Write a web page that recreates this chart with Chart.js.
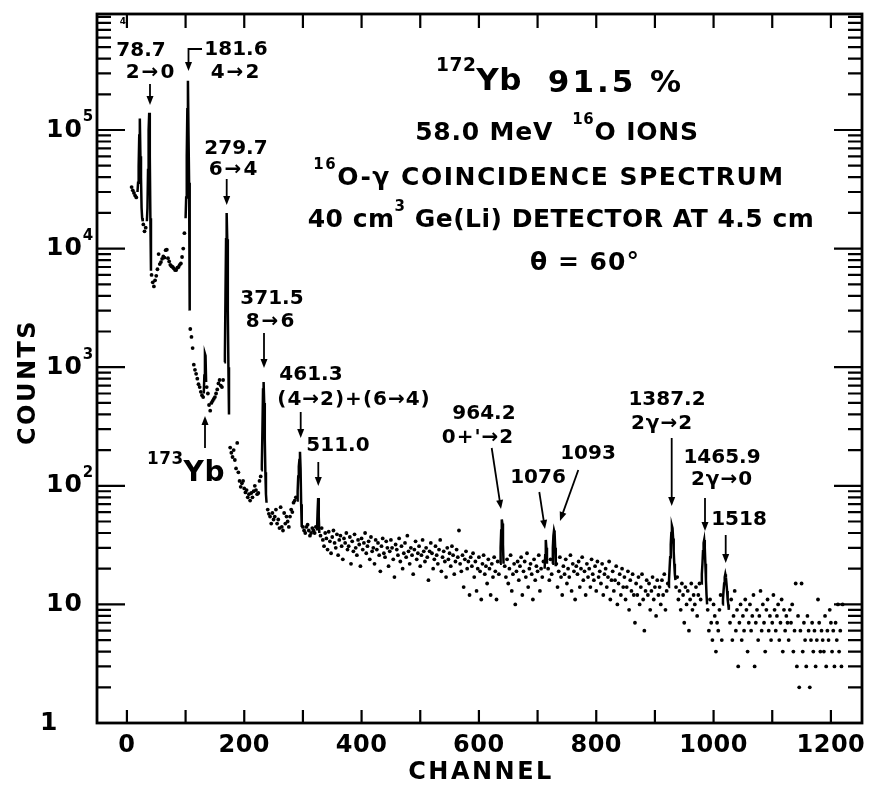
<!DOCTYPE html>
<html>
<head>
<meta charset="utf-8">
<script src="https://cdn.jsdelivr.net/npm/chart.js@4.4.1/dist/chart.umd.min.js"></script>
<style>
  html, body { margin: 0; padding: 0; background: #fff; }
  #wrap { width: 872px; height: 787px; }
</style>
</head>
<body>
<div id="wrap"><canvas id="spectrum"></canvas></div>
<script>
// background counts, one value every 2 channels starting at channel 8 (null = covered by a peak)
const firstChannel = 8;
const channelStep = 2;
const bgCounts = [
  33000, 31000, 29500, 28000, 27000, null, null, null, null, null,
  16000, 14000, 15000, null, null, null, null, 6000, 5200, 4800,
  5400, 5900, 6700, 9000, 7400, 7700, 8200, 8600, 8400, 9700,
  9800, 8300, 7800, 7300, 7100, 7000, 6800, 6600, 6600, 6900,
  7000, 7300, 7500, 8500, 10000, 13500, null, null, null, null,
  2100, 1800, 1450, 1050, 950, 880, 800, 720, 680, 620,
  580, 560, null, null, 680, 600, 480, 430, 500, 520,
  540, 560, 600, 650, 730, 780, 700, 680, 780, null,
  null, null, null, null, 210, 190, 175, 200, 165, 140,
  230, 130, 110, 98, 105, 110, 95, 88, 92, 80,
  85, 75, 87, 80, 90, 100, 92, 85, 87, 110,
  120, null, null, null, null, null, 63, 58, 55, 48,
  59, 52, 55, 63, 48, 52, 44, 66, 45, 42,
  59, 48, 55, 50, 45, 55, 63, 60, 72, 75,
  80, null, null, null, null, null, 45, 42, 40, 45,
  47, 42, 38, 40, 44, 42, 40, 45, null, null,
  null, 38, 44, 35, 31, 40, 36, 29, 41, 34,
  27, 37, 42, 33, 30, 39, 26, 35, 38, 31,
  24, 36, 33, 40, 29, 31, 37, 22, 34, 28,
  39, 30, 26, 35, 32, 21, 36, 29, 33, 40,
  27, 31, 34, 24, 37, 28, 30, 22, 35, 29,
  33, 26, 19, 31, 36, 27, 25, 34, 30, 21,
  28, 35, 30, 24, 17, 32, 29, 26, 36, 23,
  31, 20, 27, 33, 25, 38, 28, 22, 30, 26,
  18, 29, 34, 24, 27, 31, 21, 26, 35, 28,
  23, 30, 25, 16, 28, 33, 27, 20, 24, 31,
  26, 22, 29, 35, 19, 25, 28, 23, 17, 30,
  24, 27, 21, 31, 26, 18, 23, 29, 25, 42,
  22, 19, 26, 14, 24, 28, 20, 23, 12, 25,
  21, 27, 17, 23, 13, 20, 25, 19, 11, 22,
  26, 18, 21, 15, 24, 20, 12, 22, 17, 25,
  19, 11, 23, 18, null, null, null, null, 21, 17,
  24, 15, 20, 26, 13, 18, 22, 10, 19, 23,
  16, 21, 25, 12, 19, 23, 17, 27, 14, 20,
  22, 18, 11, 24, 16, 21, 19, 26, 13, 20,
  17, 23, null, null, null, 20, 16, 24, 18, null,
  null, null, 22, 14, 19, 25, 17, 12, 21, 18,
  24, 15, 20, 17, 26, 13, 22, 19, 11, 21,
  18, 23, 14, 20, 25, 16, 19, 12, 22, 17,
  20, 14, 24, 18, 16, 21, 13, 23, 17, 19,
  15, 22, 12, 18, 20, 14, 17, 23, 11, 16,
  19, 13, 16, 21, 10, 15, 18, 12, 20, 14,
  17, 11, 14, 19, 9, 16, 13, 18, 12, 7,
  15, 12, 17, 10, 14, 18, 11, 6, 13, 16,
  12, 15, 9, 13, 17, 11, 14, 8, 16, 12,
  14, 10, 16, 12, 18, 9, 13, 15, null, null,
  null, null, null, null, 14, 17, 11, 13, 9, 15,
  12, 7, 14, 10, 13, 6, 11, 15, 9, 12,
  10, 14, 8, 12, 15, 11, null, null, null, null,
  null, 9, 6, 11, 7, 5, 10, 8, 4, 7,
  6, 9, 12, 5, null, null, null, null, null, null,
  7, 11, 5, 8, 13, 6, 9, 3, 7, 10,
  5, 8, 6, 11, 9, 4, 7, 10, 6, 8,
  12, 3, 7, 9, 5, 8, 13, 6, 10, 7,
  4, 9, 11, 6, 8, 5, 7, 12, 9, 6,
  8, 10, 5, 7, 11, 4, 9, 6, 8, 7,
  5, 9, 7, 10, 4, 6, 15, 3, 8, 2,
  6, 15, 4, 7, 5, 3, 8, 6, 2, 5,
  7, 4, 6, 3, 5, 11, 7, 4, 6, 5,
  4, 8, 3, 6, 5, 9, 7, 4, 6, 3,
  7, 5, 10, 4, 6, 3, 10
];

// peaks, channel by channel, drawn as solid lines
const peakChannels = [
  [18, 19, 20, 21, 22, 23, 24, 25, 26, 27],
  [34, 35, 36, 37, 38, 39, 40, 41],
  [100, 101, 102, 103, 104, 105, 106, 107],
  [131, 132, 133, 134, 135],
  [166, 167, 168, 169, 170, 171, 172, 173, 174],
  [229, 230, 231, 232, 233, 234, 235, 236, 237, 238],
  [290, 291, 292, 293, 294, 295, 296, 297, 298],
  [324, 325, 326, 327, 328],
  [636, 637, 638, 639, 640, 641, 642],
  [712, 713, 714, 715, 716],
  [725, 726, 727, 728, 729, 730, 731],
  [923, 924, 925, 926, 927, 928, 929, 930, 931, 932, 933, 934, 935],
  [979, 980, 981, 982, 983, 984, 985, 986, 987, 988, 989],
  [1015, 1016, 1017, 1018, 1019, 1020, 1021, 1022, 1023, 1024, 1025, 1026]
];
const peakCounts = [
  [30000, 36000, 50000, 90000, 125000, 60000, 40000, 22000, 18000, 17000],
  [17000, 22000, 46000, 100000, 140000, 60000, 18000, 6500],
  [18000, 27000, 60000, 150000, 260000, 90000, 36000, 3000],
  [600, 850, 1300, 1250, 750],
  [1100, 1270, 4000, 12000, 20000, 12000, 3000, 1000, 400],
  [135, 150, 300, 650, 750, 500, 250, 130, 85, 72],
  [75, 90, 120, 145, 165, 194, 140, 70, 45],
  [42, 60, 79, 55, 40],
  [22, 30, 42, 52, 48, 32, 22],
  [20, 26, 35, 30, 22],
  [22, 30, 38, 42, 40, 30, 21],
  [14, 16, 20, 25, 32, 40, 46, 44, 36, 28, 22, 18, 16],
  [15, 18, 22, 28, 33, 35, 30, 22, 16, 12, 10],
  [10, 11, 13, 15, 17, 18, 17, 15, 13, 11, 10, 9]
];

const xTickLabels = [0, 200, 400, 600, 800, 1000, 1200];
const yLabelBase = ['1', '10', '10', '10', '10', '10'];
const yLabelExp = ['', '', '2', '3', '4', '5'];

const FONT = '"DejaVu Sans", sans-serif';
const SUP = true;

// annotation texts: [parts, centre x, centre y, size, letter spacing]
const labels = [
  [[['78.7']], 141, 51, 20, 0],
  [[['2→0']], 151, 73, 20, 2],
  [[['181.6']], 236, 50, 20, 0],
  [[['4→2']], 236, 73, 20, 2],
  [[['279.7']], 236, 149, 20, 0],
  [[['6→4']], 234, 170, 20, 2],
  [[['371.5']], 272, 299, 20, 0],
  [[['8→6']], 271, 322, 20, 2],
  [[['461.3']], 311, 375, 20, 0],
  [[['(4→2)+(6→4)']], 354, 400, 20, 1],
  [[['511.0']], 338, 446, 20, 0],
  [[['964.2']], 484, 414, 20, 0],
  [[["0+'→2"]], 478, 438, 20, 1],
  [[['1076']], 538, 478, 20, 0],
  [[['1093']], 588, 454, 20, 0],
  [[['1387.2']], 667, 400, 20, 0],
  [[['2γ→2']], 662, 424, 20, 1],
  [[['1465.9']], 722, 458, 20, 0],
  [[['2γ→0']], 722, 480, 20, 1],
  [[['1518']], 739, 520, 20, 0],
  [[['173', SUP], ['Yb']], 186, 474, 28, 0.5],
  [[['172', SUP], ['Yb']], 479, 82, 31, 0.5],
  [[['91.5 %']], 616, 84, 31, 3],
  [[['58.0 MeV  '], ['16', SUP], ['O IONS']], 557, 133, 25, 0.8],
  [[['16', SUP], ['O-γ COINCIDENCE SPECTRUM']], 549, 178, 25, 1.5],
  [[['40 cm'], ['3', SUP], [' Ge(Li) DETECTOR AT 4.5 cm']], 561, 220, 25, 0.5],
  [[['θ = 60°']], 585, 263, 25, 1],
  [[['4']], 123, 22, 9, 0]
];

// arrows: polyline, head on last point
const arrows = [
  [[150, 84], [150, 105]],
  [[202, 49], [188.5, 49], [188.5, 71]],
  [[226.7, 179], [226.7, 205]],
  [[264, 333], [264, 368]],
  [[300.7, 412], [300.7, 438]],
  [[318.3, 462], [318.3, 486]],
  [[205, 448], [205, 416]],
  [[491.7, 448], [501, 509]],
  [[539.3, 492], [545, 529]],
  [[578.3, 470], [560, 521]],
  [[671.7, 438], [671.7, 506]],
  [[705, 498], [705, 531]],
  [[725.7, 535], [725.7, 563]]
];

function drawParts(ctx, parts, x, y, size, spacing, align) {
  ctx.save();
  ctx.letterSpacing = spacing + 'px';
  ctx.textBaseline = 'middle';
  ctx.textAlign = 'left';
  const widths = parts.map(p => {
    ctx.font = 'bold ' + (p[1] ? size * 0.6 : size) + 'px ' + FONT;
    return ctx.measureText(p[0]).width;
  });
  const total = widths.reduce((a, b) => a + b, 0);
  let cx = align === 'left' ? x : x - total / 2;
  parts.forEach((p, i) => {
    ctx.font = 'bold ' + (p[1] ? size * 0.6 : size) + 'px ' + FONT;
    ctx.fillText(p[0], cx, p[1] ? y - size * 0.5 : y);
    cx += widths[i];
  });
  ctx.restore();
}

function drawArrow(ctx, pts) {
  const n = pts.length;
  const [x1, y1] = pts[n - 2];
  const [x2, y2] = pts[n - 1];
  const a = Math.atan2(y2 - y1, x2 - x1);
  const L = 9, W = 3.5;
  ctx.beginPath();
  ctx.moveTo(pts[0][0], pts[0][1]);
  for (let i = 1; i < n - 1; i++) ctx.lineTo(pts[i][0], pts[i][1]);
  ctx.lineTo(x2 - (L - 2) * Math.cos(a), y2 - (L - 2) * Math.sin(a));
  ctx.stroke();
  ctx.beginPath();
  ctx.moveTo(x2, y2);
  ctx.lineTo(x2 - L * Math.cos(a) + W * Math.sin(a), y2 - L * Math.sin(a) - W * Math.cos(a));
  ctx.lineTo(x2 - L * Math.cos(a) - W * Math.sin(a), y2 - L * Math.sin(a) + W * Math.cos(a));
  ctx.closePath();
  ctx.fill();
}

const framePlugin = {
  id: 'frame',
  afterDraw(chart) {
    const ctx = chart.ctx;
    const xs = chart.scales.x;
    const ys = chart.scales.y;
    const { left, right, top, bottom } = chart.chartArea;
    ctx.save();
    ctx.strokeStyle = '#000';
    ctx.fillStyle = '#000';
    ctx.lineCap = 'butt';

    // inward ticks
    ctx.lineWidth = 2.2;
    ctx.beginPath();
    for (let c = 0; c <= 1200; c += 100) {
      const x = xs.getPixelForValue(c);
      ctx.moveTo(x, bottom); ctx.lineTo(x, bottom - 13);
      ctx.moveTo(x, top); ctx.lineTo(x, top + 14);
    }
    for (let d = 0; d <= 5; d++) {
      for (let m = 1; m <= 9; m++) {
        const v = m * Math.pow(10, d);
        if (v >= ys.max) break;
        const y = ys.getPixelForValue(v);
        const len = m === 1 ? 28 : 14;
        ctx.moveTo(left, y); ctx.lineTo(left + len, y);
        ctx.moveTo(right, y); ctx.lineTo(right - len, y);
      }
    }
    ctx.stroke();

    ctx.lineWidth = 2.8;
    ctx.strokeRect(left, top, right - left, bottom - top);

    // tick labels
    xTickLabels.forEach(v => {
      drawParts(ctx, [[String(v)]], xs.getPixelForValue(v), 746, 24, 0.5);
    });
    yLabelBase.forEach((b, i) => {
      const y = ys.getPixelForValue(Math.pow(10, i));
      const parts = yLabelExp[i] ? [[b], [yLabelExp[i], SUP]] : [[b]];
      drawParts(ctx, parts, i === 0 ? 40 : 46, y, 25, 1, 'left');
    });

    // axis titles
    drawParts(ctx, [['CHANNEL']], 481, 773, 24, 2.5);
    ctx.save();
    ctx.translate(29, 382);
    ctx.rotate(-Math.PI / 2);
    drawParts(ctx, [['COUNTS']], 0, 0, 24, 2.5);
    ctx.restore();

    // annotations
    labels.forEach(l => drawParts(ctx, l[0], l[1], l[2], l[3], l[4]));
    ctx.lineWidth = 1.8;
    arrows.forEach(a => drawArrow(ctx, a));
    ctx.restore();
  }
};

const dots = [];
bgCounts.forEach((v, i) => {
  if (v !== null) dots.push({ x: firstChannel + i * channelStep, y: v });
});

const datasets = [{
  data: dots,
  showLine: false,
  pointRadius: 1.9,
  pointBorderWidth: 0,
  pointBackgroundColor: '#000'
}];
peakChannels.forEach((chs, k) => {
  datasets.push({
    data: chs.map((c, i) => ({ x: c, y: peakCounts[k][i] })),
    showLine: true,
    borderColor: '#000',
    borderWidth: 2.5,
    pointRadius: 0,
    tension: 0
  });
});

new Chart(document.getElementById('spectrum'), {
  type: 'scatter',
  data: { datasets: datasets },
  options: {
    responsive: true,
    maintainAspectRatio: false,
    animation: false,
    layout: { padding: { top: 14, right: 10, left: 0, bottom: 0 } },
    plugins: { legend: { display: false }, tooltip: { enabled: false } },
    scales: {
      x: {
        type: 'linear',
        min: -51,
        max: 1253,
        grid: { display: false },
        border: { display: false },
        ticks: { display: false },
        afterFit: s => { s.height = 64; }
      },
      y: {
        type: 'logarithmic',
        min: 1,
        max: 951000,
        grid: { display: false },
        border: { display: false },
        ticks: { display: false },
        afterFit: s => { s.width = 97; }
      }
    }
  },
  plugins: [framePlugin]
});
</script>
</body>
</html>
